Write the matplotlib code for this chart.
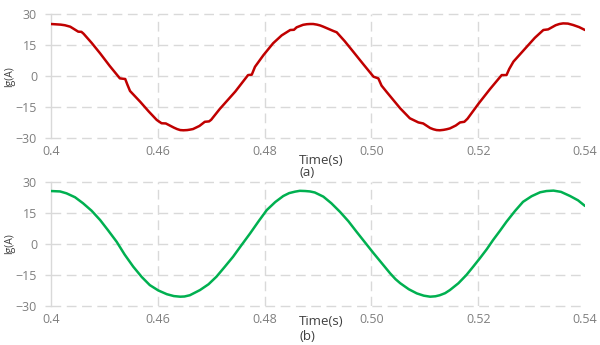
import matplotlib
matplotlib.use("Agg")
import matplotlib.pyplot as plt

plt.rcParams['font.family'] = ['Open Sans', 'DejaVu Sans']

# x tick positions and labels (as printed on the chart)
tick_pos = [0.44, 0.46, 0.48, 0.50, 0.52, 0.54]
tick_lbl = ['0.4', '0.46', '0.48', '0.50', '0.52', '0.54']
y_ticks = [-30, -15, 0, 15, 30]

# (a) red trace
t_a = [0.4400, 0.4418, 0.4426, 0.4436, 0.4451, 0.4457, 0.4461, 0.4476, 0.4492, 0.4510,
       0.4529, 0.4539, 0.4543, 0.4548, 0.4567, 0.4583, 0.4598, 0.4607, 0.4615,
       0.4630, 0.4636, 0.4642, 0.4648, 0.4655, 0.4660, 0.4666, 0.4678, 0.4688, 0.4696, 0.4700, 0.4716,
       0.4745, 0.4769, 0.4776, 0.4782, 0.4798, 0.4816, 0.4832, 0.4848, 0.4855,
       0.4860, 0.4872, 0.4879, 0.4885, 0.4891, 0.4898, 0.4904, 0.4910, 0.4929, 0.4935, 0.4950, 0.4966,
       0.4985, 0.5004, 0.5013, 0.5019, 0.5029, 0.5054, 0.5072, 0.5088, 0.5097,
       0.5110, 0.5116, 0.5122, 0.5128, 0.5135, 0.5141, 0.5147, 0.5158, 0.5166, 0.5174, 0.5180, 0.5201,
       0.5222, 0.5244, 0.5253, 0.5258, 0.5266, 0.5291, 0.5306, 0.5322, 0.5331,
       0.5345, 0.5352, 0.5359, 0.5368, 0.5378, 0.5389, 0.5400]
v_a = [25.3, 25.0, 24.7, 24.0, 21.6, 21.5, 20.6, 16.2, 11.1, 5.0,
       -1.0, -1.3, -4.0, -7.1, -12.3, -17.0, -21.1, -22.7, -22.8,
       -24.8, -25.5, -26.0, -26.1, -26.0, -25.8, -25.5, -24.0, -22.0, -21.8, -21.0, -15.8,
       -7.4, 0.6, 0.8, 4.6, 10.3, 16.0, 19.8, 22.4, 22.5,
       23.7, 24.9, 25.2, 25.3, 25.3, 25.0, 24.6, 24.0, 21.9, 21.3, 17.0, 11.9,
       5.8, -0.2, -1.0, -4.5, -7.7, -15.5, -20.3, -22.3, -22.8,
       -25.0, -25.6, -26.0, -26.1, -25.9, -25.6, -25.2, -23.8, -22.3, -22.0, -20.5, -13.1,
       -6.2, 0.6, 0.6, 3.5, 7.1, 14.3, 18.6, 22.4, 22.7,
       24.7, 25.3, 25.6, 25.5, 24.8, 23.8, 22.4]

# (b) green trace
t_b = [0.4400, 0.4417, 0.4429, 0.4445, 0.4460, 0.4476, 0.4492, 0.4507, 0.4523, 0.4538,
       0.4554, 0.4570, 0.4585, 0.4601, 0.4617, 0.4630, 0.4642, 0.4650, 0.4660, 0.4679,
       0.4695, 0.4710, 0.4725, 0.4741, 0.4757, 0.4773, 0.4789, 0.4804, 0.4820, 0.4835,
       0.4846, 0.4857, 0.4866, 0.4876, 0.4885, 0.4894, 0.4910, 0.4925, 0.4941, 0.4957,
       0.4972, 0.4988, 0.5004, 0.5020, 0.5035, 0.5045, 0.5054, 0.5070, 0.5085, 0.5098,
       0.5110, 0.5120, 0.5128, 0.5138, 0.5147, 0.5163, 0.5178, 0.5190, 0.5203, 0.5216,
       0.5228, 0.5241, 0.5253, 0.5269, 0.5284, 0.5300, 0.5316, 0.5328, 0.5341, 0.5355,
       0.5372, 0.5387, 0.5400]
v_b = [25.5, 25.3, 24.4, 22.5, 19.6, 16.0, 11.5, 6.5, 1.0, -5.2,
       -11.0, -16.0, -19.9, -22.5, -24.3, -25.2, -25.5, -25.4, -24.8, -22.3,
       -19.5, -15.8, -11.2, -6.2, -0.5, 5.1, 11.0, 16.3, 20.2, 23.1,
       24.5, 25.2, 25.6, 25.5, 25.3, 24.8, 22.8, 19.6, 15.5, 10.9,
       5.9, 0.7, -4.5, -9.5, -14.2, -17.0, -19.0, -21.9, -23.9, -25.0,
       -25.5, -25.3, -24.8, -23.8, -22.3, -19.0, -15.0, -11.2, -7.0, -2.6,
       1.9, 6.4, 10.7, 15.9, 20.3, 23.0, 24.9, 25.5, 25.7, 25.1,
       23.1, 21.0, 18.3]

fig = plt.figure(figsize=(6, 3.45), dpi=100)
ax1 = fig.add_axes([0.085, 0.599, 0.89, 0.3596])
ax2 = fig.add_axes([0.085, 0.113, 0.89, 0.3603])

grid_c = '#d9d9d9'
for ax, t, v, col in [(ax1, t_a, v_a, '#c00000'), (ax2, t_b, v_b, '#00b050')]:
    ax.set_xlim(tick_pos[0], tick_pos[-1])
    ax.set_ylim(-30, 30)
    for y in y_ticks:
        ax.axhline(y, color=grid_c, lw=1.0, ls=(0, (7, 4)), zorder=1, clip_on=False)
    for x in tick_pos[1:-1]:
        ax.axvline(x, color=grid_c, lw=1.0, ls=(0, (7, 4)), zorder=1)
    ax.plot(t, v, color=col, lw=1.8, zorder=3, solid_joinstyle='round', solid_capstyle='round')
    for s in ['top', 'right', 'bottom']:
        ax.spines[s].set_visible(False)
    ax.spines['left'].set_color(grid_c)
    ax.spines['left'].set_linewidth(1.0)
    ax.set_xticks(tick_pos)
    ax.set_xticklabels(tick_lbl)
    ax.set_yticks(y_ticks)
    ax.tick_params(axis='x', length=0, pad=5, labelsize=9, labelcolor='#7f7f7f')
    ax.tick_params(axis='y', length=4, width=1.0, color=grid_c, pad=6, labelsize=9, labelcolor='#7f7f7f')
    ax.patch.set_alpha(0)

# y-axis titles
fig.text(10 / 600, 1 - 77 / 345, 'lg(A)', fontsize=7.5, color='#404040', rotation=90, ha='center', va='center')
fig.text(10 / 600, 1 - 244 / 345, 'lg(A)', fontsize=7.5, color='#404040', rotation=90, ha='center', va='center')

fig.text(0.498, 0.534, 'Time(s)', fontsize=9.5, color='#404040', ha='left', va='center')
fig.text(0.500, 0.499, '(a)', fontsize=9.5, color='#404040', ha='left', va='center')
fig.text(0.498, 0.067, 'Time(s)', fontsize=9.5, color='#404040', ha='left', va='center')
fig.text(0.500, 0.026, '(b)', fontsize=9.5, color='#404040', ha='left', va='center')

fig.savefig('out.png', dpi=100)
